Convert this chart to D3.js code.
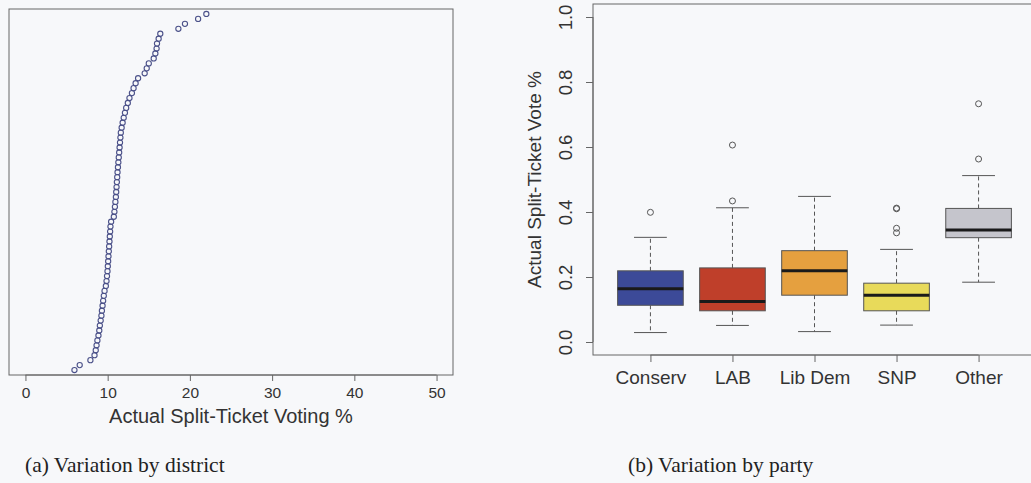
<!DOCTYPE html>
<html>
<head>
<meta charset="utf-8">
<script src="https://cdnjs.cloudflare.com/ajax/libs/d3/7.8.5/d3.min.js"></script>
<style>
  body { margin: 0; background: #f7f8fa; }
  svg { display: block; }
  .ax text { font-family: "Liberation Sans", Arial, sans-serif; fill: #333; }
  .cap { font-family: "Liberation Serif", "Times New Roman", serif; fill: #222; }
</style>
</head>
<body>
<svg id="chart" width="1031" height="483"></svg>
<script>
// (a) sorted district split-ticket voting %, 73 constituencies
const districtValues = [
  5.96, 6.6, 7.9, 8.4, 8.55, 8.65, 8.75, 8.88, 8.98, 9.05,
  9.15, 9.24, 9.3, 9.38, 9.45, 9.53, 9.62, 9.78, 9.86, 9.92,
  9.98, 10.02, 10.06, 10.1, 10.14, 10.18, 10.22, 10.26, 10.3, 10.34,
  10.42, 10.75, 10.82, 10.88, 10.94, 11.0, 11.04, 11.08, 11.12, 11.16,
  11.2, 11.25, 11.3, 11.35, 11.4, 11.45, 11.5, 11.55, 11.6, 11.7,
  11.82, 11.95, 12.1, 12.25, 12.45, 12.65, 12.95, 13.15, 13.4, 13.7,
  14.5, 14.75, 15.0, 15.6, 15.8, 15.95, 16.0, 16.2, 16.4, 18.6,
  19.4, 21.0, 22.0
];
const districtTicks = [0, 10, 20, 30, 40, 50];

// (b) box plot summaries by party
const parties = ["Conserv", "LAB", "Lib Dem", "SNP", "Other"];
const partyColors = ["#3c4a98", "#bf3f2a", "#e5a03f", "#e8da5a", "#c5c5cc"];
const whiskerLow = [0.029, 0.051, 0.032, 0.052, 0.184];
const q1 = [0.113, 0.096, 0.144, 0.096, 0.321];
const median = [0.164, 0.125, 0.219, 0.144, 0.345];
const q3 = [0.219, 0.228, 0.281, 0.181, 0.411];
const whiskerHigh = [0.322, 0.413, 0.448, 0.285, 0.512];
const outliers = [[0.399], [0.434, 0.606], [], [0.336, 0.35, 0.41, 0.412], [0.563, 0.733]];
const voteTicks = [0.0, 0.2, 0.4, 0.6, 0.8, 1.0];

const svg = d3.select("#chart");
const axisCol = "#666";

// ---------- panel (a) ----------
const a = { left: 9, right: 453, top: 9, bottom: 375 };
const xa = d3.scaleLinear().domain([-2, 52]).range([a.left, a.right]);
const ya = d3.scaleLinear().domain([0, districtValues.length + 1]).range([a.bottom, a.top]);

const ga = svg.append("g");
ga.append("rect")
  .attr("x", a.left).attr("y", a.top)
  .attr("width", a.right - a.left).attr("height", a.bottom - a.top)
  .attr("fill", "none").attr("stroke", axisCol).attr("stroke-width", 1);

ga.selectAll("circle.dot")
  .data(districtValues)
  .join("circle")
  .attr("class", "dot")
  .attr("cx", d => xa(d))
  .attr("cy", (d, i) => ya(i + 1))
  .attr("r", 2.6)
  .attr("fill", "none")
  .attr("stroke", "#4b5189")
  .attr("stroke-width", 1.1);

const axA = ga.append("g")
  .attr("class", "ax")
  .attr("transform", `translate(0,${a.bottom})`)
  .call(d3.axisBottom(xa).tickValues(districtTicks).tickSize(6).tickPadding(6).tickFormat(d3.format("d")));
axA.select(".domain").attr("stroke", axisCol)
  .attr("d", `M${xa(0)},0H${xa(50)}`);
axA.selectAll(".tick line").attr("stroke", axisCol);
axA.selectAll(".tick text").attr("font-size", 15.5).attr("fill", "#444");

ga.append("text")
  .attr("class", "ax")
  .attr("x", xa(25)).attr("y", 423)
  .attr("text-anchor", "middle")
  .attr("font-family", "Liberation Sans, Arial, sans-serif")
  .attr("font-size", 20).attr("fill", "#333")
  .text("Actual Split-Ticket Voting %");

svg.append("text")
  .attr("class", "cap")
  .attr("x", 25).attr("y", 472)
  .attr("font-size", 21.5)
  .text("(a) Variation by district");

// ---------- panel (b) ----------
const b = { left: 593, right: 1036, top: 4, bottom: 355 };
const xb = d3.scaleLinear().domain([0.3, parties.length + 0.7]).range([b.left, b.right]);
const yb = d3.scaleLinear().domain([-0.04, 1.04]).range([b.bottom, b.top]);
const boxW = xb(1.4) - xb(1);

const gb = svg.append("g");
gb.append("rect")
  .attr("x", b.left).attr("y", b.top)
  .attr("width", b.right - b.left).attr("height", b.bottom - b.top)
  .attr("fill", "none").attr("stroke", axisCol).attr("stroke-width", 1);

const boxes = parties.map((p, i) => ({
  name: p, pos: i + 1, color: partyColors[i],
  lo: whiskerLow[i], q1: q1[i], med: median[i], q3: q3[i], hi: whiskerHigh[i], out: outliers[i]
}));

const bx = gb.selectAll("g.box").data(boxes).join("g").attr("class", "box");

// whiskers
bx.append("line")
  .attr("x1", d => xb(d.pos)).attr("x2", d => xb(d.pos))
  .attr("y1", d => yb(d.q3)).attr("y2", d => yb(d.hi))
  .attr("stroke", "#555").attr("stroke-dasharray", "4,3");
bx.append("line")
  .attr("x1", d => xb(d.pos)).attr("x2", d => xb(d.pos))
  .attr("y1", d => yb(d.q1)).attr("y2", d => yb(d.lo))
  .attr("stroke", "#555").attr("stroke-dasharray", "4,3");
// caps
bx.append("line")
  .attr("x1", d => xb(d.pos) - boxW / 2).attr("x2", d => xb(d.pos) + boxW / 2)
  .attr("y1", d => yb(d.hi)).attr("y2", d => yb(d.hi))
  .attr("stroke", "#555");
bx.append("line")
  .attr("x1", d => xb(d.pos) - boxW / 2).attr("x2", d => xb(d.pos) + boxW / 2)
  .attr("y1", d => yb(d.lo)).attr("y2", d => yb(d.lo))
  .attr("stroke", "#555");
// box
bx.append("rect")
  .attr("x", d => xb(d.pos) - boxW).attr("width", boxW * 2)
  .attr("y", d => yb(d.q3)).attr("height", d => yb(d.q1) - yb(d.q3))
  .attr("fill", d => d.color).attr("stroke", "#555").attr("stroke-width", 1);
// median
bx.append("line")
  .attr("x1", d => xb(d.pos) - boxW).attr("x2", d => xb(d.pos) + boxW)
  .attr("y1", d => yb(d.med)).attr("y2", d => yb(d.med))
  .attr("stroke", "#1a1a1a").attr("stroke-width", 3);
// outliers
bx.selectAll("circle")
  .data(d => d.out.map(v => ({ pos: d.pos, v })))
  .join("circle")
  .attr("cx", d => xb(d.pos)).attr("cy", d => yb(d.v))
  .attr("r", 3).attr("fill", "none").attr("stroke", "#555").attr("stroke-width", 1);

// axes
const axBx = gb.append("g")
  .attr("class", "ax")
  .attr("transform", `translate(0,${b.bottom})`)
  .call(d3.axisBottom(xb).tickValues(d3.range(1, parties.length + 1)).tickSize(7).tickPadding(9)
    .tickFormat(d => parties[d - 1]));
axBx.select(".domain").attr("stroke", axisCol).attr("d", `M${xb(1)},0H${xb(5)}`);
axBx.selectAll(".tick line").attr("stroke", axisCol);
axBx.selectAll(".tick text").attr("font-size", 19).attr("fill", "#333");

const axBy = gb.append("g")
  .attr("class", "ax")
  .attr("transform", `translate(${b.left},0)`)
  .call(d3.axisLeft(yb).tickValues(voteTicks).tickSize(7).tickFormat(d3.format(".1f")));
axBy.select(".domain").attr("stroke", axisCol).attr("d", `M0,${yb(0)}V${yb(1)}`);
axBy.selectAll(".tick line").attr("stroke", axisCol);
axBy.selectAll(".tick text")
  .attr("font-size", 18.5).attr("fill", "#444")
  .attr("text-anchor", "middle")
  .attr("dy", null)
  .attr("x", 0).attr("y", 0)
  .attr("transform", "translate(-21,0) rotate(-90)");

gb.append("text")
  .attr("transform", `translate(541,${yb(0.5)}) rotate(-90)`)
  .attr("text-anchor", "middle")
  .attr("font-family", "Liberation Sans, Arial, sans-serif")
  .attr("font-size", 19).attr("fill", "#333")
  .text("Actual Split-Ticket Vote %");

svg.append("text")
  .attr("class", "cap")
  .attr("x", 628).attr("y", 472)
  .attr("font-size", 21.5)
  .text("(b) Variation by party");
</script>
</body>
</html>
